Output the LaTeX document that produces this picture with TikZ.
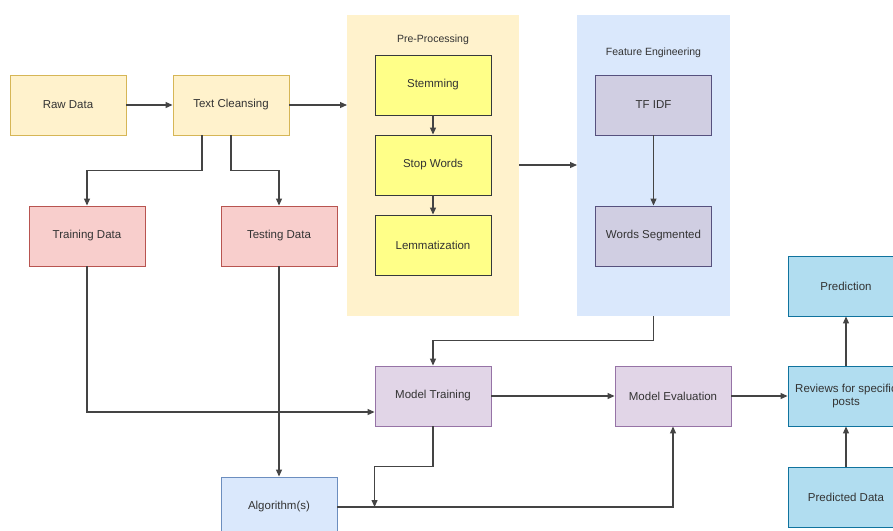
\documentclass[tikz,border=0pt]{standalone}
\usepackage{fontspec}
\setmainfont{Liberation Sans}
\usetikzlibrary{arrows.meta,calc}
\definecolor{txt}{HTML}{333333}
\definecolor{ln}{HTML}{444444}
\definecolor{yfill}{HTML}{FFF2CC}
\definecolor{yborder}{HTML}{D6B656}
\definecolor{redfill}{HTML}{F8CECC}
\definecolor{redborder}{HTML}{B85450}
\definecolor{stemfill}{HTML}{FFFF88}
\definecolor{stemborder}{HTML}{36393D}
\definecolor{purpfill}{HTML}{E1D5E7}
\definecolor{purpborder}{HTML}{9673A6}
\definecolor{tffill}{HTML}{D0CEE2}
\definecolor{tfborder}{HTML}{56517E}
\definecolor{bluefill}{HTML}{DAE8FC}
\definecolor{blueborder}{HTML}{6C8EBF}
\definecolor{cyanfill}{HTML}{B1DDF0}
\definecolor{cyanborder}{HTML}{10739E}
\tikzset{
  box/.style={draw, line width=0.9pt, minimum width=116pt, minimum height=60pt, inner sep=0pt, align=center, text=txt, font=\fontsize{11.5}{13}\selectfont},
  ybox/.style={box, fill=yfill, draw=yborder},
  rbox/.style={box, fill=redfill, draw=redborder},
  sbox/.style={box, fill=stemfill, draw=stemborder},
  pbox/.style={box, fill=purpfill, draw=purpborder},
  tbox/.style={box, fill=tffill, draw=tfborder},
  bbox/.style={box, fill=bluefill, draw=blueborder},
  cbox/.style={box, fill=cyanfill, draw=cyanborder},
  container/.style={inner sep=0pt, anchor=north west},
  conn/.style={draw=ln, line width=1.1pt, -{Triangle[length=7pt,width=6pt]}},
  clabel/.style={text=txt, font=\fontsize{10.5}{12}\selectfont}
}
\begin{document}
\begin{tikzpicture}[x=1pt,y=-1pt]
\useasboundingbox (0,0) rectangle (893,530);
\fill[white] (0,0) rectangle (893,530);
% containers
\node[container, fill=yfill, minimum width=172pt, minimum height=301pt] (pre) at (347,15) {};
\node[container, fill=bluefill, minimum width=153pt, minimum height=301pt] (fe) at (577,15) {};
\node[clabel] (prelabel) at (433,40) {Pre-Processing};
\node[clabel] (felabel) at (653.5,53) {Feature Engineering};
% nodes
\node[ybox] (raw) at (68,105) {Raw Data};
\node[ybox] (tc) at (231,105) {Text Cleansing};
\node[rbox] (trd) at (87,236) {Training Data};
\node[rbox] (ted) at (279,236) {Testing Data};
\node[sbox] (stem) at (433,85) {Stemming};
\node[sbox] (stop) at (433,165) {Stop Words};
\node[sbox] (lem) at (433,245) {Lemmatization};
\node[tbox] (tfidf) at (653.5,105) {TF IDF};
\node[tbox] (ws) at (653.5,236) {Words Segmented};
\node[pbox] (mt) at (433,396) {Model Training};
\node[pbox] (me) at (673,396) {Model Evaluation};
\node[cbox] (rev) at (846,396) {Reviews for specific\\posts};
\node[cbox] (pred) at (846,286) {Prediction};
\node[cbox] (pdata) at (846,497) {Predicted Data};
\node[bbox] (alg) at (279,507) {Algorithm(s)};
\coordinate (j) at (mt.west |- alg.east);
% connectors
\draw[conn] (raw) -- (tc);
\draw[conn] (tc.east) -- (tc.east -| pre.west);
\draw[conn] ([xshift=-29pt]tc.south) -- ++(0,35) -| (trd.north);
\draw[conn] (tc.south) -- ++(0,35) -| (ted.north);
\draw[conn] (stem) -- (stop);
\draw[conn] (stop) -- (lem);
\draw[conn] (stop.east -| pre.east) -- (stop.east -| fe.west);
\draw[conn] (tfidf) -- (ws);
\draw[conn] (fe.south) -- ++(0,24) -| (mt.north);
\draw[conn] (trd.south) |- ([yshift=-16pt]mt.west);
\draw[conn] (ted.south) -- (alg.north);
\draw[conn] (mt.south) -- ++(0,40) -| (j);
\draw[conn] (alg.east) -| (me.south);
\draw[conn] (mt) -- (me);
\draw[conn] (me) -- (rev);
\draw[conn] (rev) -- (pred);
\draw[conn] (pdata) -- (rev);
\end{tikzpicture}
\end{document}
